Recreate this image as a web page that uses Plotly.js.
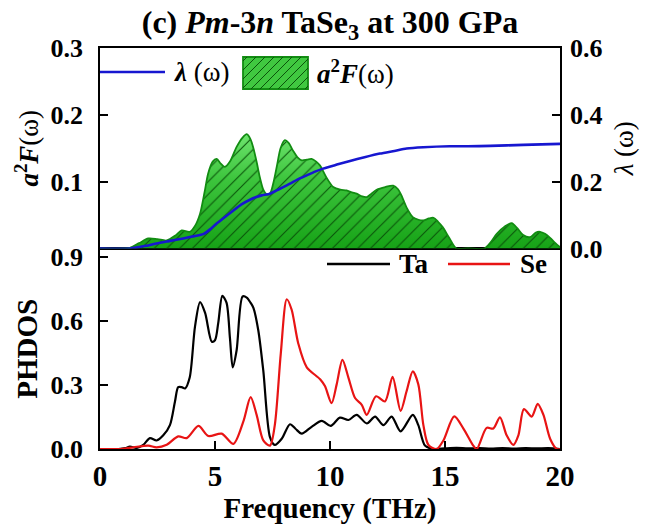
<!DOCTYPE html>
<html>
<head>
<meta charset="utf-8">
<script src="https://cdn.plot.ly/plotly-3.0.1.min.js"></script>
<style>
  html, body { margin: 0; padding: 0; background: #fff; }
  #chart { width: 645px; height: 527px; }
</style>
</head>
<body>
<div id="chart"></div>
<script>
// Eliashberg spectral function a^2F(w) (left axis, upper panel)
const freqA2F = [0, 1.0, 1.3, 1.7, 2.1, 2.5, 2.9, 3.3, 3.55, 3.9, 4.15, 4.35, 4.55, 4.7, 4.9,
  5.07, 5.25, 5.43, 5.65, 5.94, 6.2, 6.38, 6.55, 6.67, 6.82, 6.96, 7.1, 7.25, 7.4, 7.55,
  7.7, 7.85, 8.04, 8.2, 8.4, 8.6, 8.77, 9.0, 9.2, 9.4, 9.57, 9.85, 10.14, 10.45, 10.72,
  10.95, 11.16, 11.4, 11.6, 11.8, 12.03, 12.4, 12.75, 12.95, 13.1, 13.35, 13.6, 13.85,
  14.06, 14.3, 14.5, 14.7, 14.9, 15.2, 15.5, 16.0, 16.7, 17.0, 17.25, 17.6, 17.9, 18.15,
  18.4, 18.7, 18.95, 19.13, 19.35, 19.57, 19.8, 20];
const a2F = [0, 0, 0.001, 0.008, 0.015, 0.014, 0.012, 0.02, 0.027, 0.025, 0.035, 0.052, 0.085, 0.112, 0.130,
  0.134, 0.127, 0.122, 0.130, 0.152, 0.166, 0.171, 0.163, 0.150, 0.128, 0.105, 0.088, 0.081, 0.083, 0.100,
  0.125, 0.150, 0.162, 0.158, 0.146, 0.136, 0.132, 0.133, 0.134, 0.130, 0.124, 0.106, 0.092, 0.088, 0.087,
  0.084, 0.082, 0.078, 0.077, 0.082, 0.088, 0.092, 0.094, 0.089, 0.080, 0.060, 0.047, 0.043,
  0.042, 0.045, 0.046, 0.040, 0.032, 0.015, 0.0, 0.0, 0.0, 0.010, 0.022, 0.033, 0.038, 0.030,
  0.020, 0.017, 0.024, 0.025, 0.022, 0.016, 0.008, 0.002];

// Cumulative electron-phonon coupling lambda(w) (right axis, upper panel)
const freqLambda = [0, 1.3, 2.0, 2.46, 3.0, 3.62, 4.1, 4.49, 4.8, 5.07, 5.45, 5.8, 6.15, 6.52, 6.8,
  7.03, 7.39, 7.8, 8.26, 8.6, 8.99, 9.35, 9.7, 10.3, 10.87, 11.5, 12.17, 12.8, 13.33, 14.06,
  15.2, 16.0, 16.96, 18.4, 20];
const lambda = [0, 0, 0.008, 0.015, 0.022, 0.030, 0.037, 0.043, 0.058, 0.075, 0.095, 0.114, 0.132, 0.146, 0.154,
  0.159, 0.164, 0.178, 0.194, 0.207, 0.219, 0.230, 0.239, 0.251, 0.262, 0.273, 0.284, 0.292, 0.299, 0.303,
  0.306, 0.306, 0.307, 0.310, 0.313];

// Projected phonon DOS, Ta
const freqTa = [0, 0.8, 1.1, 1.3, 1.6, 1.88, 2.17, 2.46, 2.75, 3.04, 3.26, 3.4, 3.55, 3.7, 3.9,
  4.13, 4.35, 4.57, 4.86, 5.0, 5.14, 5.32, 5.5, 5.65, 5.77, 5.94, 6.2, 6.38, 6.55, 6.67,
  6.88, 7.1, 7.39, 7.6, 7.9, 8.26, 8.5, 8.77, 9.2, 9.64, 10.03, 10.43, 10.8, 11.16, 11.6,
  11.96, 12.32, 12.68, 13.07, 13.6, 13.84, 14.13, 14.5, 15.0, 15.5, 16.0, 16.5, 17.0, 17.5,
  18.0, 18.5, 19.0, 19.5, 20];
const ta = [0, 0, 0.004, 0.011, 0.005, 0.019, 0.051, 0.040, 0.064, 0.112, 0.223, 0.290, 0.290, 0.284, 0.335,
  0.574, 0.689, 0.638, 0.503, 0.510, 0.590, 0.718, 0.686, 0.520, 0.383, 0.463, 0.715, 0.710, 0.685, 0.662,
  0.558, 0.367, 0.056, 0.019, 0.048, 0.116, 0.095, 0.072, 0.104, 0.132, 0.108, 0.147, 0.136, 0.160, 0.120,
  0.152, 0.112, 0.152, 0.083, 0.160, 0.112, 0.016, 0.0, 0.003, 0.005, 0.003, 0.004, 0.002, 0.004,
  0.002, 0.004, 0.003, 0.004, 0.0];

// Projected phonon DOS, Se
const freqSe = [0, 0.9, 1.45, 2.1, 2.46, 2.9, 3.4, 3.77, 4.28, 4.71, 5.29, 5.8, 6.23, 6.55, 6.81,
  7.1, 7.39, 7.6, 7.86, 8.12, 8.33, 8.62, 8.99, 9.57, 9.78, 10.07, 10.29, 10.54, 10.8, 11.09,
  11.38, 11.6, 12.0, 12.39, 12.72, 13.07, 13.33, 13.6, 13.84, 14.06, 14.28, 14.64, 14.93, 15.4,
  15.8, 16.23, 16.38, 16.81, 17.1, 17.39, 17.68, 17.97, 18.19, 18.43, 18.77, 19.03, 19.28,
  19.57, 19.86, 20];
const se = [0, 0, 0.008, 0.016, 0.008, 0.020, 0.059, 0.051, 0.108, 0.061, 0.072, 0.024, 0.128, 0.243, 0.160,
  0.040, 0.016, 0.112, 0.447, 0.702, 0.654, 0.495, 0.383, 0.327, 0.295, 0.215, 0.303, 0.418, 0.335, 0.239,
  0.207, 0.160, 0.247, 0.223, 0.338, 0.179, 0.271, 0.364, 0.303, 0.112, 0.019, 0.0, 0.040, 0.153,
  0.096, 0.016, 0.0, 0.099, 0.096, 0.148, 0.064, 0.019, 0.064, 0.187, 0.152, 0.212, 0.160,
  0.048, 0.0, 0.0];

const xTicks = [0, 5, 10, 15, 20];
const a2fTicks = [0.1, 0.2, 0.3];
const lambdaTicks = [0, 0.2, 0.4, 0.6];
const phdosTicks = [0, 0.3, 0.6, 0.9];

const SERIF = '"Liberation Serif", "Times New Roman", Times, serif';
const AREA_LINE = '#128c12';
const BLUE = '#1717d0';
const RED = '#e81414';

const axisCommon = {
  showline: true, linecolor: '#000', linewidth: 1.8,
  ticks: 'inside', ticklen: 8, tickwidth: 1.8, tickcolor: '#000',
  showgrid: false, zeroline: false,
  tickfont: { family: SERIF, size: 26, color: '#000', weight: 'bold' }
};

const traces = [
  { // gradient body of a^2F
    x: freqA2F, y: a2F, xaxis: 'x2', yaxis: 'y2', type: 'scatter', mode: 'lines',
    line: { width: 0, shape: 'spline', smoothing: 0.8, color: AREA_LINE },
    fill: 'tozeroy',
    fillgradient: { type: 'vertical', colorscale: [[0, '#16a216'], [0.6, '#3cc43c'], [1, '#6ee46e']] },
    hoverinfo: 'skip', showlegend: false
  },
  { // hatching and outline of a^2F
    x: freqA2F, y: a2F, xaxis: 'x2', yaxis: 'y2', type: 'scatter', mode: 'lines',
    line: { width: 1.8, shape: 'spline', smoothing: 0.8, color: AREA_LINE },
    fill: 'tozeroy', fillcolor: 'rgba(0,0,0,0)',
    fillpattern: { shape: '/', size: 9, solidity: 0.12, fgcolor: '#0a540a', bgcolor: 'rgba(0,0,0,0)' },
    name: 'a2F', showlegend: false
  },
  {
    x: freqLambda, y: lambda, xaxis: 'x2', yaxis: 'y3', type: 'scatter', mode: 'lines',
    line: { width: 2.6, color: BLUE, shape: 'spline', smoothing: 0.6 },
    name: 'lambda', showlegend: false
  },
  {
    x: freqTa, y: ta, xaxis: 'x', yaxis: 'y', type: 'scatter', mode: 'lines',
    line: { width: 2.2, color: '#000', shape: 'spline', smoothing: 0.8 },
    name: 'Ta', showlegend: false
  },
  {
    x: freqSe, y: se, xaxis: 'x', yaxis: 'y', type: 'scatter', mode: 'lines',
    line: { width: 2.2, color: RED, shape: 'spline', smoothing: 0.8 },
    name: 'Se', showlegend: false
  }
];

// plot-area size in px, used to place legend swatches in paper units
const PW = 460, PH = 401;
function px(x) { return x / PW; }
function py(y) { return y / PH; }

// hatched legend swatch for a^2F
const box = { x: 143, y: 360, w: 65, h: 32 };
let hatch = '';
for (let c = -box.h + 4; c < box.w; c += 9) {
  const xa = Math.max(0, c), xb = Math.min(box.w, c + box.h);
  if (xb <= xa) continue;
  hatch += 'M' + px(box.x + xa) + ',' + py(box.y + xa - c) +
           'L' + px(box.x + xb) + ',' + py(box.y + xb - c) + ' ';
}

const shapes = [
  { type: 'line', xref: 'paper', yref: 'paper', x0: 0, x1: px(65), y0: py(377), y1: py(377),
    line: { color: BLUE, width: 2.6 } },
  { type: 'rect', xref: 'paper', yref: 'paper', x0: px(box.x), x1: px(box.x + box.w),
    y0: py(box.y), y1: py(box.y + box.h), fillcolor: '#40c840', line: { color: AREA_LINE, width: 1.8 } },
  { type: 'path', xref: 'paper', yref: 'paper', path: hatch, line: { color: '#0a540a', width: 1 } },
  { type: 'line', xref: 'paper', yref: 'paper', x0: px(227), x1: px(290), y0: py(185), y1: py(185),
    line: { color: '#000', width: 2.4 } },
  { type: 'line', xref: 'paper', yref: 'paper', x0: px(348), x1: px(410), y0: py(185), y1: py(185),
    line: { color: RED, width: 2.4 } }
];

const legendFont = { family: SERIF, size: 27, color: '#000' };
const annotations = [
  { xref: 'paper', yref: 'paper', x: px(72), y: py(377), xanchor: 'left', yanchor: 'middle',
    text: '<b><i>λ</i></b> (ω)', showarrow: false, font: legendFont },
  { xref: 'paper', yref: 'paper', x: px(215), y: py(377), xanchor: 'left', yanchor: 'middle',
    text: '<b><i>a</i><sup>2</sup><i>F</i></b>(ω)', showarrow: false, font: legendFont },
  { xref: 'paper', yref: 'paper', x: px(297), y: py(185), xanchor: 'left', yanchor: 'middle',
    text: '<b>Ta</b>', showarrow: false, font: legendFont },
  { xref: 'paper', yref: 'paper', x: px(418), y: py(185), xanchor: 'left', yanchor: 'middle',
    text: '<b>Se</b>', showarrow: false, font: legendFont }
];

const layout = {
  width: 645, height: 527,
  margin: { l: 100, r: 85, t: 48, b: 78, pad: 0 },
  paper_bgcolor: '#fff', plot_bgcolor: '#fff',
  showlegend: false,
  title: {
    text: '<b>(c) <i>Pm</i>-3<i>n</i> TaSe<sub>3</sub> at 300 GPa</b>',
    font: { family: SERIF, size: 32, color: '#000' },
    x: 0.5, xanchor: 'center', y: 0.958, yanchor: 'middle', xref: 'paper'
  },
  xaxis: Object.assign({}, axisCommon, {
    domain: [0, 1], anchor: 'y', range: [0, 20], tickvals: xTicks, mirror: true,
    automargin: true,
    tickfont: { family: SERIF, size: 29, color: '#000', weight: 'bold' },
    title: { text: '<b>Frequency (THz)</b>', font: { family: SERIF, size: 29, color: '#000' }, standoff: 1 }
  }),
  yaxis: Object.assign({}, axisCommon, {
    domain: [0, 0.5], anchor: 'x', range: [0, 0.94], tickvals: phdosTicks, tickformat: '.1f', mirror: true,
    ticklabelstandoff: 10,
    title: { text: '<b>PHDOS</b>', font: { family: SERIF, size: 29, color: '#000' }, standoff: 4 }
  }),
  xaxis2: Object.assign({}, axisCommon, {
    domain: [0, 1], anchor: 'y2', range: [0, 20], matches: 'x', mirror: true,
    ticks: '', showticklabels: false
  }),
  yaxis2: Object.assign({}, axisCommon, {
    domain: [0.5, 1], anchor: 'x2', range: [0, 0.3], tickvals: a2fTicks, tickformat: '.1f',
    ticklabelstandoff: 10,
    title: { text: '<b><i>a</i><sup>2</sup><i>F</i></b>(ω)', font: { family: SERIF, size: 27, color: '#000' }, standoff: 4 }
  }),
  yaxis3: Object.assign({}, axisCommon, {
    overlaying: 'y2', anchor: 'x2', side: 'right', range: [0, 0.6], tickvals: lambdaTicks, tickformat: '.1f',
    ticklabelstandoff: 3,
    title: { text: '<i>λ</i> (ω)', font: { family: SERIF, size: 27, color: '#000' }, standoff: 12 }
  }),
  shapes: shapes,
  annotations: annotations
};

Plotly.newPlot('chart', traces, layout, { displayModeBar: false, staticPlot: true });
</script>
</body>
</html>
